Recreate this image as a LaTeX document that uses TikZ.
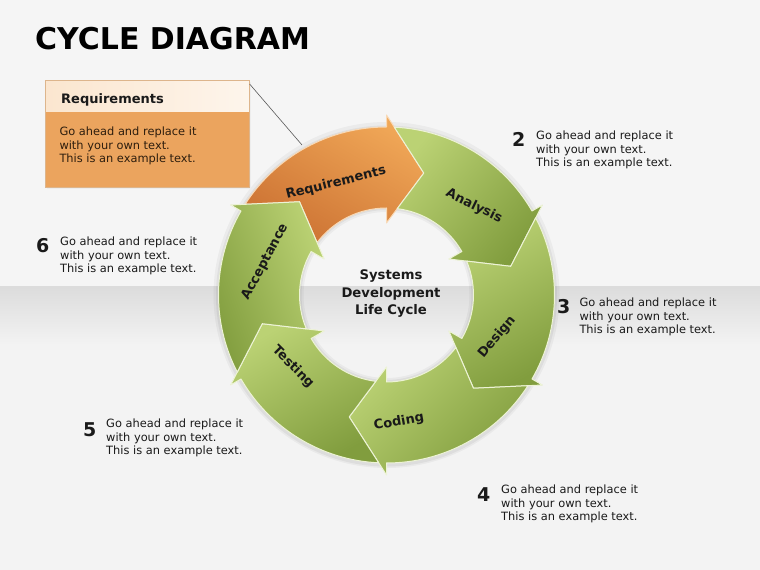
\documentclass[tikz,border=0pt]{standalone}
\usepackage{fontspec}
\setmainfont{DejaVu Sans}
\usetikzlibrary{calc}
\definecolor{bgtop}{HTML}{F5F5F5}
\definecolor{bgbot}{HTML}{F3F3F3}
\definecolor{band}{HTML}{DCDCDC}
\definecolor{glight}{HTML}{BBD274}
\definecolor{gdark}{HTML}{819D3E}
\definecolor{olight}{HTML}{F0A757}
\definecolor{odark}{HTML}{CC7233}
\definecolor{gedge}{HTML}{EDF3D6}
\definecolor{oedge}{HTML}{F8D9B6}
\definecolor{boxbody}{HTML}{EBA45E}
\definecolor{boxhead}{HTML}{FBE6CF}
\definecolor{boxborder}{HTML}{DDB58C}
\definecolor{txt}{HTML}{1A1A1A}
\definecolor{boxtxt}{HTML}{2E1E0E}
\def\cyRo{168pt}
\def\cyRi{87pt}
\def\cyRm{127.5pt}
\def\cyHo{180pt}
\def\cyHi{72pt}
% #1 head base angle, #2 light, #3 dark, #4 shading angle, #5 edge colour
\newcommand\cyarrow[5]{%
  \shadedraw[top color=#2,bottom color=#3,shading angle=#4,draw=#5,line width=1pt,line join=round]
  ({#1+60-2.67}:\cyRo) arc[start angle={#1+60-2.67},end angle={#1},radius=\cyRo]
  -- ({#1}:\cyHo) -- ({#1-17}:\cyRm) -- ({#1}:\cyHi) -- ({#1}:\cyRi)
  arc[start angle={#1},end angle={#1+60-7.07},radius=\cyRi]
  -- ({#1+43}:\cyRm) -- cycle;}
\newcommand\gotext{\fontsize{11.4}{13.4}\selectfont\vtop{\hbox{Go ahead and replace it}\hbox{with your own text.}\hbox{This is an example text.}}}
\tikzset{
  gotxt/.style={anchor=base west,inner sep=0pt,text=txt},
  numtxt/.style={anchor=base west,inner sep=0pt,text=txt,font=\fontsize{19}{19}\selectfont\bfseries},
  lbl/.style={inner sep=0pt,text=txt,font=\fontsize{13}{13}\selectfont\bfseries},
}
\begin{document}
\begin{tikzpicture}[x=1pt,y=1pt]
\useasboundingbox (0,0) rectangle (760,570);
% background
\fill[bgbot] (0,0) rectangle (760,570);
\fill[bgtop] (0,283) rectangle (760,570);
\shade[top color=band,bottom color=bgbot] (0,225) rectangle (760,283);
% title
\node[anchor=base west,inner sep=0pt,font=\fontsize{30}{36}\selectfont\bfseries] (title) at (35,520) {CYCLE DIAGRAM};
% cycle
\begin{scope}[shift={(386.5,275)}]
\fill[black,opacity=0.04,even odd rule] (0,0) circle (173pt) (0,0) circle (83pt);
\fill[black,opacity=0.05,even odd rule] (0,-1) circle (170.5pt) (0,0) circle (85pt);
\cyarrow{90}{olight}{odark}{-30}{oedge}
\cyarrow{30}{glight}{gdark}{50}{gedge}
\cyarrow{-30}{glight}{gdark}{30}{gedge}
\cyarrow{-90}{glight}{gdark}{45}{gedge}
\cyarrow{-150}{glight}{gdark}{30}{gedge}
\cyarrow{150}{glight}{gdark}{-70}{gedge}
\end{scope}
% arrow labels
\node[lbl,rotate=14] (lreq) at (336,387) {Requirements};
\node[lbl,rotate=-26] (lana) at (474,364) {Analysis};
\node[lbl,rotate=50] (ldes) at (497,233) {Design};
\node[lbl,rotate=10] (lcod) at (399,148) {Coding};
\node[lbl,rotate=-45] (ltes) at (293,203) {Testing};
\node[lbl,rotate=62] (lacc) at (265,308) {Acceptance};
\node[align=center,inner sep=0pt,text=txt,font=\fontsize{13.2}{17.5}\selectfont\bfseries] (centre) at (391,276) {Systems\\Development\\Life Cycle};
% callout
\fill[black!7] (47,381) rectangle (251,488);
\node[draw=boxborder,fill=boxbody,line width=0.6pt,minimum width=204pt,minimum height=107pt,inner sep=0pt,anchor=north west] (callout) at (45,490) {};
\shade[left color=boxhead,right color=boxhead!40!white] ([xshift=0.3pt,yshift=-0.3pt]callout.north west) rectangle ([xshift=-0.3pt]callout.east |- 0,458);
\draw[boxborder,line width=0.6pt] (callout.north west) rectangle (callout.south east);
\node[anchor=base west,inner sep=0pt,text=txt,font=\fontsize{13}{13}\selectfont\bfseries] (chead) at (61,466.7) {Requirements};
\node[gotxt,text=boxtxt] (cbody) at (59.3,434) {\gotext};
\coordinate (ringpt) at (302,425);
\draw[black!65,line width=0.6pt] ([yshift=-4pt]callout.north east) -- (ringpt);
% numbered texts
\node[numtxt] (n2) at (512,423) {2};
\node[gotxt] (t2) at (536,430) {\gotext};
\node[numtxt] (n3) at (557,256) {3};
\node[gotxt] (t3) at (579.3,263.3) {\gotext};
\node[numtxt] (n4) at (477,68) {4};
\node[gotxt] (t4) at (501,76) {\gotext};
\node[numtxt] (n5) at (83,133) {5};
\node[gotxt] (t5) at (106,142) {\gotext};
\node[numtxt] (n6) at (36,317) {6};
\node[gotxt] (t6) at (60,324) {\gotext};
\end{tikzpicture}
\end{document}
